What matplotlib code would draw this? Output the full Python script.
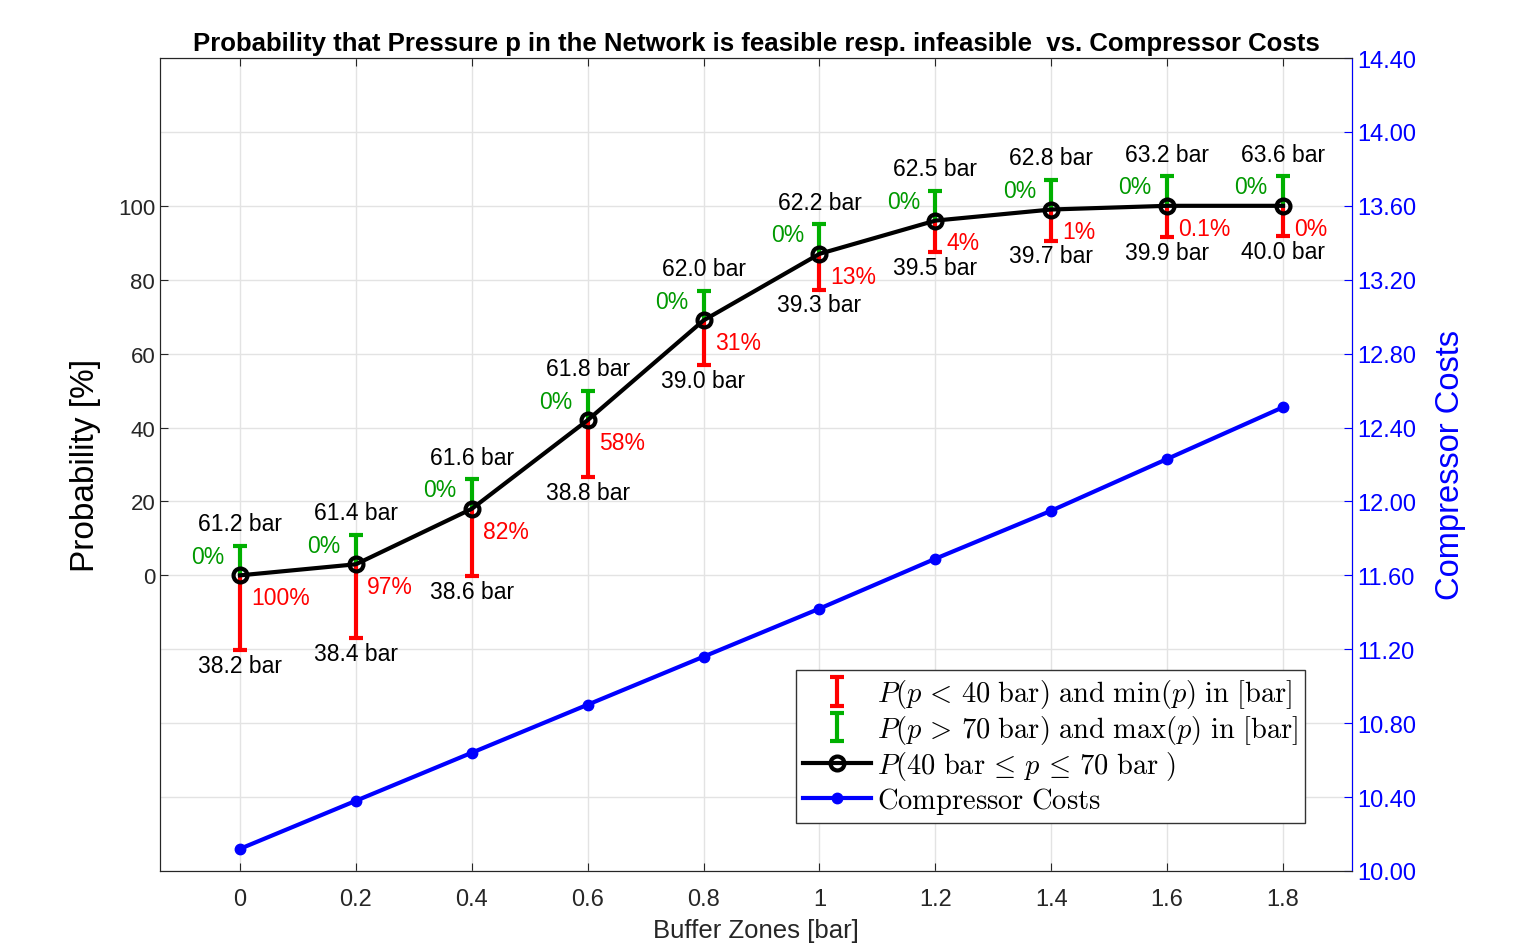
import numpy as np
import matplotlib
matplotlib.use('Agg')
import matplotlib.pyplot as plt

plt.rcParams['font.family'] = ['Liberation Sans', 'DejaVu Sans']
plt.rcParams['mathtext.fontset'] = 'cm'

# data
buffer_zones = [0, 0.2, 0.4, 0.6, 0.8, 1.0, 1.2, 1.4, 1.6, 1.8]
p_feasible = [0, 3, 18, 42, 69, 87, 96, 99, 100, 100]
red_len = [20.3, 20.0, 18.3, 15.4, 12.2, 9.7, 8.6, 8.4, 8.4, 8.1]
green_len = [8, 8, 8, 8, 8, 8, 8, 8, 8, 8]
max_p = ['61.2', '61.4', '61.6', '61.8', '62.0', '62.2', '62.5', '62.8', '63.2', '63.6']
min_p = ['38.2', '38.4', '38.6', '38.8', '39.0', '39.3', '39.5', '39.7', '39.9', '40.0']
pct_low = ['100%', '97%', '82%', '58%', '31%', '13%', '4%', '1%', '0.1%', '0%']
pct_high = ['0%'] * 10
costs = [10.12, 10.38, 10.64, 10.90, 11.16, 11.42, 11.69, 11.95, 12.23, 12.51]

x = np.array(buffer_zones)
y = np.array(p_feasible)
red = '#FF0000'
green_bar = '#00B000'
green_txt = '#009900'
dark = '#262626'
blue = '#0000FF'

fig = plt.figure(figsize=(15.27, 9.45), dpi=100)
ax = fig.add_axes([160/1527, 1 - 872/945, 1192/1527, 813/945])
ax2 = ax.twinx()

eb_red = ax.errorbar(x, y, yerr=[red_len, np.zeros(10)], fmt='none', ecolor=red,
                     elinewidth=3, capsize=5, capthick=3, zorder=3)
eb_green = ax.errorbar(x, y, yerr=[np.zeros(10), green_len], fmt='none', ecolor=green_bar,
                       elinewidth=3, capsize=5, capthick=3, zorder=3)
line_p, = ax.plot(x, y, '-o', color='k', lw=3, ms=10, mfc='none', mew=3, zorder=4)
line_c, = ax2.plot(x, costs, '-o', color=blue, lw=3, ms=7.5, zorder=4)

for xi, yi, rl, gl, hi, lo, pl, ph in zip(x, y, red_len, green_len, max_p, min_p, pct_low, pct_high):
    ax.annotate(hi + ' bar', (xi, yi + gl), xytext=(0, 16), textcoords='offset points',
                ha='center', va='center', fontsize=16.5)
    ax.annotate(lo + ' bar', (xi, yi - rl), xytext=(0, -11), textcoords='offset points',
                ha='center', va='center', fontsize=16.5)
    ax.annotate(ph, (xi, yi + gl), xytext=(-11, -7.5), textcoords='offset points',
                ha='right', va='center', fontsize=16.5, color=green_txt)
    ax.annotate(pl, (xi, yi), xytext=(8, -16), textcoords='offset points',
                ha='left', va='center', fontsize=16.5, color=red)

ax.set_xlim(-0.138, 1.919)
ax.set_ylim(-80, 140)
ax.set_xticks(buffer_zones)
ax.set_xticklabels(['0', '0.2', '0.4', '0.6', '0.8', '1', '1.2', '1.4', '1.6', '1.8'])
ax.set_yticks(np.arange(0, 101, 20))
ax.set_yticks([-80, -60, -40, -20, 120, 140], minor=True)
ax.tick_params(which='minor', length=0)
ax.tick_params(axis='y', labelsize=16, direction='in', length=6, colors=dark)
ax.tick_params(axis='x', labelsize=17, direction='in', length=6, colors=dark, top=True, pad=12)
ax.grid(True, which='both', color='#e3e3e3', lw=1)
ax.set_axisbelow(True)
for s in ['left', 'top', 'bottom']:
    ax.spines[s].set_color(dark)
    ax2.spines[s].set_color(dark)
ax.set_xlabel('Buffer Zones [bar]', fontsize=18.5, labelpad=6, color=dark)
ax.set_ylabel('Probability [%]', fontsize=24, labelpad=12)

ax2.set_ylim(10, 14.4)
ax2.set_yticks(np.arange(10, 14.41, 0.4))
ax2.set_yticklabels(['%.2f' % v for v in np.arange(10, 14.41, 0.4)])
ax2.tick_params(axis='y', colors=blue, labelsize=17, direction='in', length=6)
ax2.spines['right'].set_color(blue)
ax2.set_ylabel('Compressor Costs', fontsize=23.5, color=blue, labelpad=14)

ax.set_title('Probability that Pressure p in the Network is feasible resp. infeasible  vs. Compressor Costs',
             fontsize=18.5, fontweight='bold', pad=6)

labels = [r'$P(p\,<\,40\ \mathrm{bar})\ \mathrm{and}\ \mathrm{min}(p)\ \mathrm{in}\ [\mathrm{bar}]$',
          r'$P(p\,>\,70\ \mathrm{bar})\ \mathrm{and}\ \mathrm{max}(p)\ \mathrm{in}\ [\mathrm{bar}]$',
          r'$P(40\ \mathrm{bar}\,\leq\,p\,\leq\,70\ \mathrm{bar}\ )$',
          r'$\mathrm{Compressor\ Costs}$']
leg = ax2.legend([eb_red, eb_green, line_p, line_c], labels, loc='lower right',
                 bbox_to_anchor=(0.9606, 0.059), borderaxespad=0, fontsize=20.5,
                 handlelength=2.4, handletextpad=0.2, labelspacing=0.1, borderpad=0.25,
                 fancybox=False, edgecolor='#333333', framealpha=1)
leg.get_frame().set_linewidth(1)

# hide the caps sitting on the data points (after legend is built)
for eb in (eb_red, eb_green):
    for cl in eb[1]:
        if np.allclose(cl.get_ydata(), y):
            cl.set_visible(False)

fig.savefig('out.png', dpi=100)
